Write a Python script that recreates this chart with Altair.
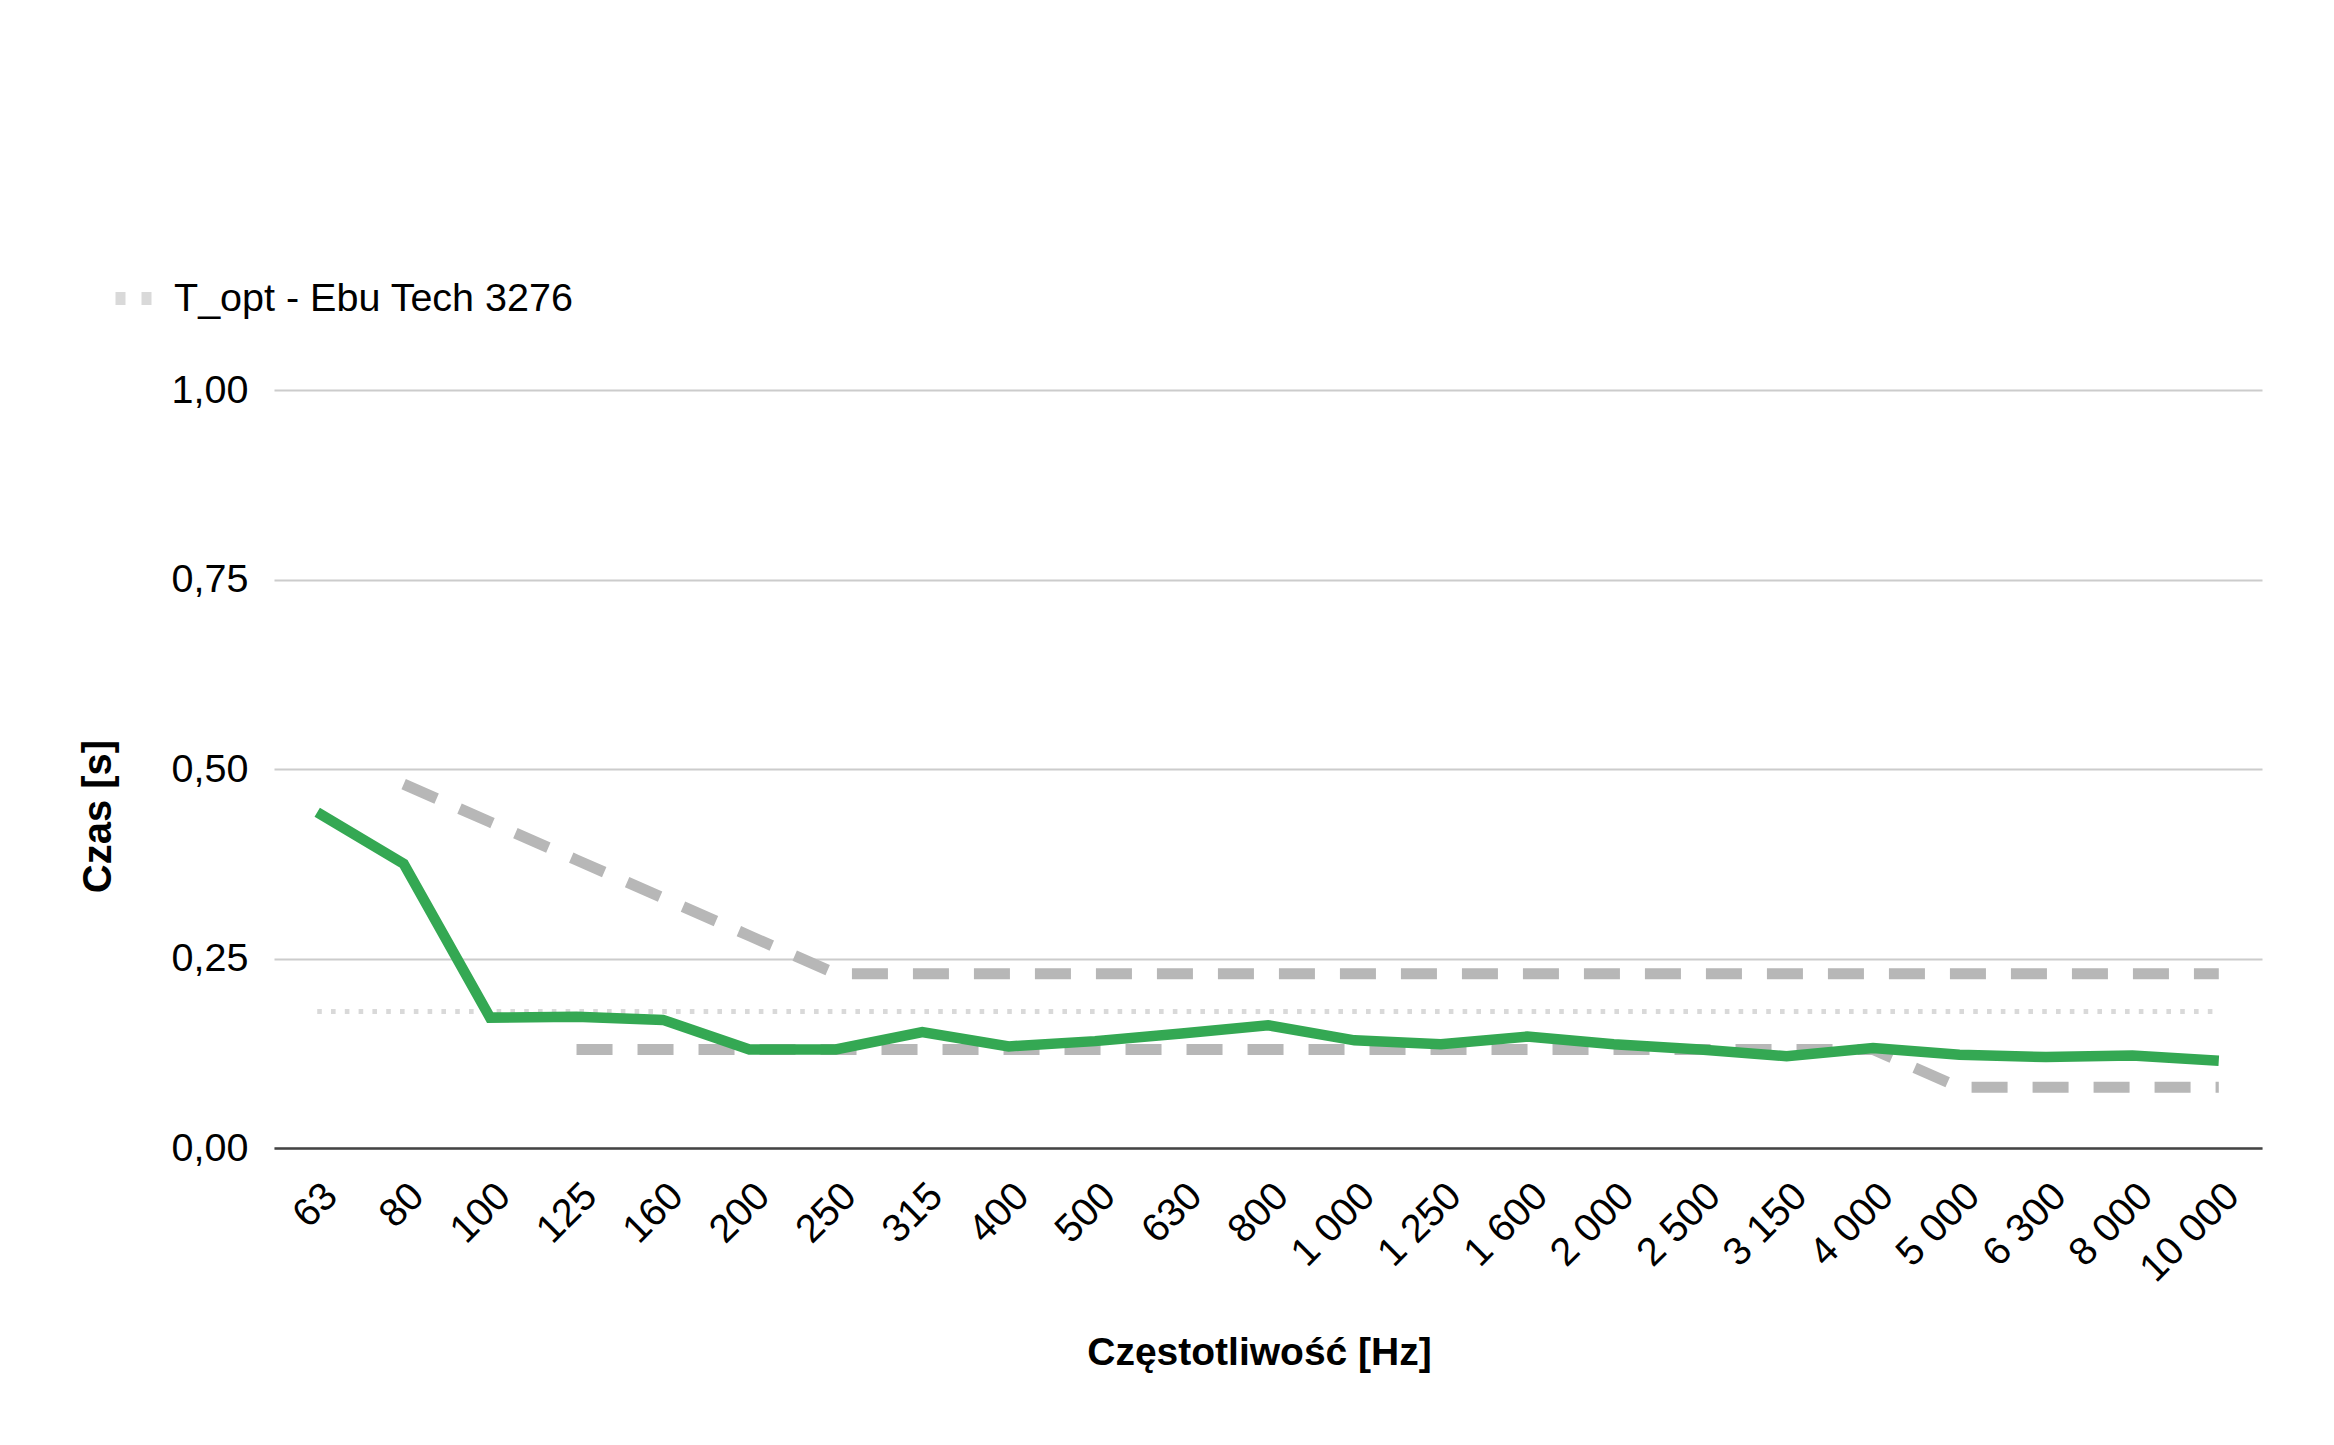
import altair as alt
import pandas as pd

freqs = ["63", "80", "100", "125", "160", "200", "250", "315", "400", "500", "630",
         "800", "1 000", "1 250", "1 600", "2 000", "2 500", "3 150", "4 000",
         "5 000", "6 300", "8 000", "10 000"]

measured = [0.443, 0.375, 0.172, 0.173, 0.169, 0.130, 0.130, 0.153, 0.134, 0.141,
            0.151, 0.162, 0.142, 0.137, 0.147, 0.137, 0.130, 0.121, 0.132, 0.123,
            0.120, 0.122, 0.115]

upper = [None, 0.48, 0.43, 0.38, 0.33, 0.28, 0.23, 0.23, 0.23, 0.23, 0.23, 0.23,
         0.23, 0.23, 0.23, 0.23, 0.23, 0.23, 0.23, 0.23, 0.23, 0.23, 0.23]

lower = [None, None, None, 0.13, 0.13, 0.13, 0.13, 0.13, 0.13, 0.13, 0.13, 0.13,
         0.13, 0.13, 0.13, 0.13, 0.13, 0.13, 0.13, 0.08, 0.08, 0.08, 0.08]

t_opt = [0.18, 0.18, 0.18, 0.18, 0.18, 0.18, 0.18, 0.18, 0.18, 0.18, 0.18, 0.18,
         0.18, 0.18, 0.18, 0.18, 0.18, 0.18, 0.18, 0.18, 0.18, 0.18, 0.18]

legend_name = "T_opt - Ebu Tech 3276"
FONT = "Liberation Sans"
LBL = 39.5
TTL = 39

df_meas = pd.DataFrame({"freq": freqs, "v": measured})
df_up = pd.DataFrame({"freq": freqs, "v": upper}).dropna()
df_low = pd.DataFrame({"freq": freqs, "v": lower}).dropna()
df_opt = pd.DataFrame({"freq": freqs, "v": t_opt, "series": [legend_name] * len(freqs)})

x_enc = alt.X(
    "freq:N",
    sort=freqs,
    scale=alt.Scale(domain=freqs),
    title="Częstotliwość [Hz]",
    axis=alt.Axis(
        labelAngle=315,
        labelAlign="right",
        labelBaseline="top",
        labelPadding=28,
        labelOffset=0,
        labelFontSize=LBL,
        labelFont=FONT,
        labelColor="#000000",
        labelOverlap=False,
        ticks=False,
        grid=False,
        domain=True,
        domainColor="#444444",
        domainWidth=2.5,
        titleFont=FONT,
        titleFontSize=TTL,
        titleFontWeight="bold",
        titleColor="#000000",
        titleX=985,
        titleY=204,
        titleAlign="center",
        titleBaseline="middle",
    ),
)

y_enc = alt.Y(
    "v:Q",
    scale=alt.Scale(domain=[0, 1], nice=False, zero=True),
    title="Czas [s]",
    axis=alt.Axis(
        values=[0, 0.25, 0.5, 0.75, 1.0],
        labelExpr="replace(format(datum.value, '.2f'), '.', ',')",
        labelFontSize=LBL,
        labelFont=FONT,
        labelColor="#000000",
        labelPadding=26,
        ticks=False,
        domain=False,
        grid=True,
        gridColor="#cccccc",
        gridWidth=2,
        titleFont=FONT,
        titleFontSize=40,
        titleFontWeight="bold",
        titleColor="#000000",
        titleAngle=270,
        titleX=-176,
        titleY=426,
        titleAlign="center",
        titleBaseline="middle",
    ),
)

opt_line = alt.Chart(df_opt).mark_line(strokeWidth=5, strokeDash=[4.6, 9.2]).encode(
    x=x_enc,
    y=y_enc,
    color=alt.Color(
        "series:N",
        scale=alt.Scale(domain=[legend_name], range=["#d9d9d9"]),
        legend=alt.Legend(
            title=None,
            orient="none",
            legendX=-165,
            legendY=-116,
            symbolType="stroke",
            symbolDash=[10, 16],
            symbolStrokeWidth=13,
            symbolSize=1296,
            labelFont=FONT,
            labelFontSize=LBL,
            labelColor="#000000",
            labelOffset=16,
            labelLimit=0,
            padding=0,
        ),
    ),
)

up_line = alt.Chart(df_up).mark_line(
    color="#b7b7b7", strokeWidth=11, strokeDash=[36, 25]
).encode(x=x_enc, y=y_enc)

low_line = alt.Chart(df_low).mark_line(
    color="#b7b7b7", strokeWidth=11, strokeDash=[36, 25]
).encode(x=x_enc, y=y_enc)

meas_line = alt.Chart(df_meas).mark_line(
    color="#34a853", strokeWidth=10.5
).encode(x=x_enc, y=y_enc)

chart = alt.layer(opt_line, up_line, low_line, meas_line).properties(
    width=1988,
    height=758,
    autosize=alt.AutoSizeParams(type="none"),
    padding={"left": 274, "top": 390, "right": 72, "bottom": 297},
    background="#ffffff",
).configure_view(stroke=None)

chart.save("out.html", embed_options={"renderer": "svg", "actions": False})
